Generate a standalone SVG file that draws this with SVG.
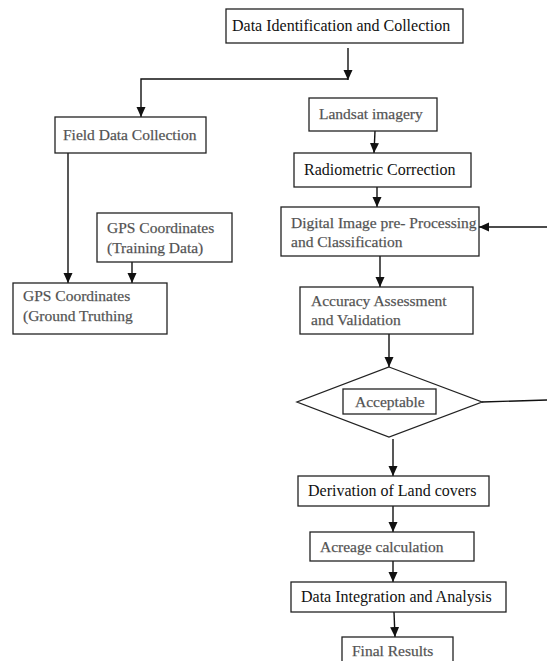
<svg xmlns="http://www.w3.org/2000/svg" width="547" height="661" viewBox="0 0 547 661">
<style>
.box{fill:#fff;stroke:#222;stroke-width:1.3}
.t{font-family:"Liberation Serif","Times New Roman",serif;font-size:16px;fill:#111}
.g{font-family:"Liberation Serif","Times New Roman",serif;font-size:15.5px;fill:#4d4d4d;stroke:#6a6a6a;stroke-width:0.25}
.c{fill:none;stroke:#111;stroke-width:1.4}
</style>
<defs>
<marker id="ah" markerUnits="userSpaceOnUse" markerWidth="10" markerHeight="12" viewBox="0 0 10 12" refX="10" refY="5" orient="auto">
<path d="M0,0.5 L10,5 L0,9.5 Z" fill="#111"/>
</marker>
</defs>
<rect width="547" height="661" fill="#fff"/>
<g id="connectors">
<line class="c" x1="348" y1="48" x2="348" y2="80" marker-end="url(#ah)"/>
<polyline class="c" points="348,79 141,79 141,117" marker-end="url(#ah)"/>
<line class="c" x1="68" y1="153" x2="68" y2="283" marker-end="url(#ah)"/>
<line class="c" x1="132" y1="262" x2="132" y2="283" marker-end="url(#ah)"/>
<line class="c" x1="375" y1="131" x2="374" y2="153" marker-end="url(#ah)"/>
<line class="c" x1="377" y1="187" x2="377" y2="207" marker-end="url(#ah)"/>
<line class="c" x1="547" y1="227" x2="479" y2="227" marker-end="url(#ah)"/>
<line class="c" x1="380" y1="256" x2="380" y2="287" marker-end="url(#ah)"/>
<line class="c" x1="389" y1="334" x2="389" y2="367" marker-end="url(#ah)"/>
<line class="c" x1="482" y1="402" x2="547" y2="400"/>
<line class="c" x1="393" y1="439" x2="393" y2="476" marker-end="url(#ah)"/>
<line class="c" x1="393" y1="506" x2="393" y2="532" marker-end="url(#ah)"/>
<line class="c" x1="393" y1="561" x2="393" y2="582" marker-end="url(#ah)"/>
<line class="c" x1="394" y1="612" x2="395" y2="637" marker-end="url(#ah)"/>
</g>
<g id="n-data-id">
<rect class="box" x="226" y="9" width="237" height="34"/>
<text class="t" x="232" y="31">Data Identification and Collection</text>
</g>
<g id="n-field">
<rect class="box" x="55" y="117" width="151" height="36"/>
<text class="g" x="63" y="140">Field Data Collection</text>
</g>
<g id="n-gps-training">
<rect class="box" x="97" y="213" width="135" height="49"/>
<text class="g" x="107" y="233">GPS Coordinates</text>
<text class="g" x="107" y="253">(Training Data)</text>
</g>
<g id="n-gps-ground">
<rect class="box" x="13" y="283" width="154" height="51"/>
<text class="g" x="23" y="301">GPS Coordinates</text>
<text class="g" x="23" y="321">(Ground Truthing</text>
</g>
<g id="n-landsat">
<rect class="box" x="309" y="98" width="128" height="33"/>
<text class="g" x="319" y="119">Landsat imagery</text>
</g>
<g id="n-radiometric">
<rect class="box" x="294" y="153" width="177" height="34"/>
<text class="t" x="304" y="175">Radiometric Correction</text>
</g>
<g id="n-digital">
<rect class="box" x="281" y="207" width="198" height="49"/>
<text class="g" x="291" y="228">Digital Image pre- Processing</text>
<text class="g" x="291" y="247">and Classification</text>
</g>
<g id="n-accuracy">
<rect class="box" x="300" y="287" width="173" height="47"/>
<text class="g" x="311" y="306">Accuracy Assessment</text>
<text class="g" x="311" y="325">and Validation</text>
</g>
<g id="n-acceptable">
<polygon class="box" points="389,367 482,402 389,437 297,402"/>
<rect class="box" x="343" y="389" width="93" height="25"/>
<text class="g" x="355" y="407">Acceptable</text>
</g>
<g id="n-derivation">
<rect class="box" x="298" y="476" width="191" height="30"/>
<text class="t" x="308" y="496">Derivation of Land covers</text>
</g>
<g id="n-acreage">
<rect class="box" x="310" y="532" width="164" height="29"/>
<text class="g" x="320" y="552">Acreage calculation</text>
</g>
<g id="n-integration">
<rect class="box" x="291" y="582" width="215" height="30"/>
<text class="t" x="301" y="602">Data Integration and Analysis</text>
</g>
<g id="n-final">
<rect class="box" x="342" y="637" width="111" height="40"/>
<text class="g" x="352" y="656">Final Results</text>
</g>
</svg>
